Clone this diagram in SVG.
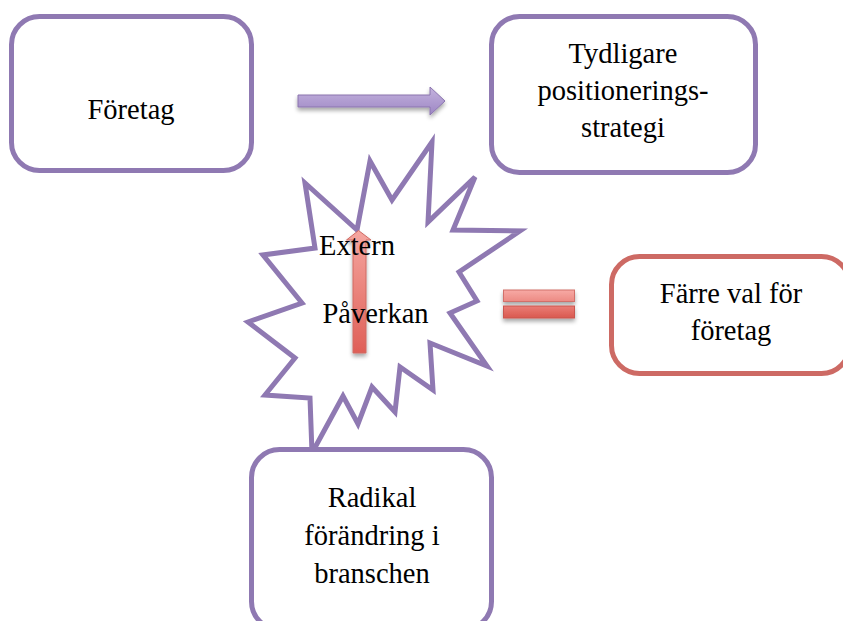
<svg xmlns="http://www.w3.org/2000/svg" width="843" height="621" viewBox="0 0 843 621">
  <defs>
    <style>
      .box { fill: #ffffff; stroke: #8f79b2; stroke-width: 5; }
      .box-red { fill: #ffffff; stroke: #cd6a64; stroke-width: 5; }
      .star { fill: #ffffff; stroke: #8f79b2; stroke-width: 5; stroke-linejoin: miter; }
      .label { font-family: "Liberation Serif", "Times New Roman", serif; font-size: 28.5px; fill: #000000; text-anchor: middle; }
      .label-start { font-family: "Liberation Serif", "Times New Roman", serif; font-size: 28.5px; fill: #000000; }
    </style>
    <linearGradient id="gradPurple" x1="0" y1="0" x2="0" y2="1">
      <stop offset="0" stop-color="#c4b3de"/>
      <stop offset="1" stop-color="#9d86c4"/>
    </linearGradient>
    <linearGradient id="gradRedV" x1="0" y1="0" x2="1" y2="0">
      <stop offset="0" stop-color="#e8736b"/>
      <stop offset="1" stop-color="#f4a29c"/>
    </linearGradient>
    <linearGradient id="gradRedUp" x1="0" y1="0" x2="0" y2="1">
      <stop offset="0" stop-color="#f5a6a0"/>
      <stop offset="1" stop-color="#df5f57"/>
    </linearGradient>
    <linearGradient id="gradBarTop" x1="0" y1="0" x2="0" y2="1">
      <stop offset="0" stop-color="#f7aaa5"/>
      <stop offset="1" stop-color="#ec8a83"/>
    </linearGradient>
    <linearGradient id="gradBarBottom" x1="0" y1="0" x2="0" y2="1">
      <stop offset="0" stop-color="#ea7d76"/>
      <stop offset="1" stop-color="#d9594f"/>
    </linearGradient>
    <filter id="shadow" x="-30%" y="-50%" width="160%" height="220%">
      <feGaussianBlur in="SourceAlpha" stdDeviation="2"/>
      <feOffset dx="0" dy="3" result="blur"/>
      <feComponentTransfer><feFuncA type="linear" slope="0.35"/></feComponentTransfer>
      <feMerge><feMergeNode/><feMergeNode in="SourceGraphic"/></feMerge>
    </filter>
  </defs>

  <rect width="843" height="621" fill="#ffffff"/>

  <!-- nodes -->
  <g id="node-foretag">
    <rect class="box" x="11.5" y="16.5" width="240" height="154" rx="28" ry="28"/>
    <text class="label" x="131" y="119">Företag</text>
  </g>

  <g id="node-tydligare">
    <rect class="box" x="491.5" y="16.5" width="264" height="156" rx="28" ry="28"/>
    <text class="label" x="623" y="63">Tydligare</text>
    <text class="label" x="623" y="100">positionerings-</text>
    <text class="label" x="623" y="137">strategi</text>
  </g>

  <g id="node-extern">
    <polygon class="star" points="357,230 370,161 392,200 432,142 428,222 475,177 453,230 520,231 459,272 477,301 450,313 487,366 430,343 433,390 400,367 395,412 372,387 358,424 343,396 312,453 310,398 265,395 295,358 248,322 302,303 263,255 315,248 305,183"/>
  </g>

  <g id="node-farre">
    <rect class="box-red" x="611.5" y="256.5" width="238" height="117" rx="28" ry="28"/>
    <text class="label" x="731" y="303">Färre val för</text>
    <text class="label" x="731" y="340">företag</text>
  </g>

  <g id="node-radikal">
    <rect class="box" x="251.5" y="449.5" width="240" height="180" rx="28" ry="28"/>
    <text class="label" x="372" y="507">Radikal</text>
    <text class="label" x="372" y="545">förändring i</text>
    <text class="label" x="372" y="583">branschen</text>
  </g>

  <!-- connectors -->
  <g id="connectors">
    <path d="M298,95 L430,95 L430,87 L445,101 L430,115 L430,107 L298,107 Z" fill="url(#gradPurple)" stroke="#8a74ae" stroke-width="1" filter="url(#shadow)"/>
    <path d="M353,353 L353,240 L346.5,240 L358.5,230.5 L371,240 L366,240 L366,353 Z" fill="url(#gradRedUp)" stroke="#cf6a63" stroke-width="1" filter="url(#shadow)"/>
    <g id="equals" filter="url(#shadow)">
      <rect x="503.5" y="290" width="71" height="11.5" fill="url(#gradBarTop)" stroke="#d2706a" stroke-width="1"/>
      <rect x="503.5" y="306" width="71" height="12" fill="url(#gradBarBottom)" stroke="#c9574f" stroke-width="1"/>
    </g>
  </g>

  <!-- burst labels drawn over the arrow -->
  <g id="extern-labels">
    <text class="label-start" x="319" y="255">Extern</text>
    <text class="label-start" x="322.5" y="323">Påverkan</text>
  </g>
</svg>
